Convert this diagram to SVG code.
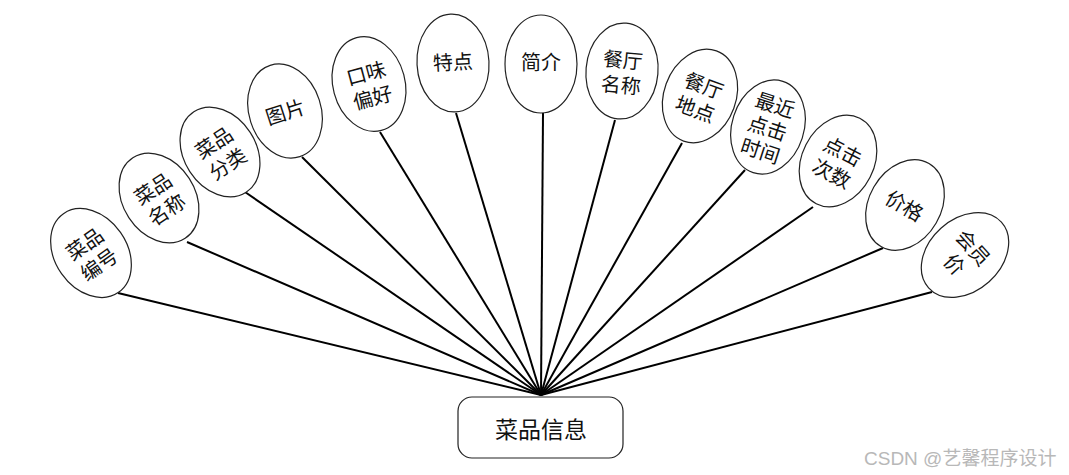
<svg xmlns="http://www.w3.org/2000/svg" width="1069" height="475" viewBox="0 0 1069 475">
<style>
.attr ellipse{fill:#fff;stroke:#222;stroke-width:1.2}
.attr text{font-family:"Noto Sans CJK SC","Noto Sans",sans-serif;font-size:20px;fill:#111;text-anchor:middle;dominant-baseline:central}
.conn line{stroke:#000;stroke-width:2}
.ent rect{fill:#fff;stroke:#222;stroke-width:1.2}
.ent text{font-family:"Noto Sans CJK SC","Noto Sans",sans-serif;font-size:23px;fill:#111;text-anchor:middle;dominant-baseline:central}
.wm{font-family:"Liberation Sans","Noto Sans CJK SC",sans-serif;font-size:19px;fill:#b8b8b8}
</style>
<rect width="1069" height="475" fill="#fff"/>
<g id="connectors" class="conn">
<line x1="118" y1="293" x2="541" y2="395"/>
<line x1="187" y1="242" x2="541" y2="395"/>
<line x1="245" y1="192" x2="541" y2="395"/>
<line x1="302" y1="157" x2="541" y2="395"/>
<line x1="380" y1="132" x2="541" y2="395"/>
<line x1="456" y1="113" x2="541" y2="395"/>
<line x1="543" y1="113" x2="541" y2="395"/>
<line x1="615" y1="120" x2="541" y2="395"/>
<line x1="682" y1="143" x2="541" y2="395"/>
<line x1="745" y1="170" x2="541" y2="395"/>
<line x1="813" y1="207" x2="541" y2="395"/>
<line x1="883" y1="248" x2="541" y2="395"/>
<line x1="932" y1="292" x2="541" y2="395"/>
</g>
<g id="n1" class="attr" transform="translate(91,253) rotate(-35)"><ellipse rx="36" ry="48"/><text y="-12">菜品</text><text y="13">编号</text></g>
<g id="n2" class="attr" transform="translate(159,198) rotate(-33)"><ellipse rx="36" ry="48"/><text y="-12">菜品</text><text y="13">名称</text></g>
<g id="n3" class="attr" transform="translate(220,152) rotate(-33)"><ellipse rx="36" ry="48"/><text y="-12">菜品</text><text y="13">分类</text></g>
<g id="n4" class="attr" transform="translate(285,111) rotate(-18)"><ellipse rx="36" ry="48"/><text y="0">图片</text></g>
<g id="n5" class="attr" transform="translate(369,84) rotate(-15)"><ellipse rx="36" ry="48"/><text y="-12">口味</text><text y="13">偏好</text></g>
<g id="n6" class="attr" transform="translate(453,63) rotate(-3)"><ellipse rx="36" ry="49"/><text y="-2">特点</text></g>
<g id="n7" class="attr" transform="translate(541,64)"><ellipse rx="36" ry="49"/><text y="-3">简介</text></g>
<g id="n8" class="attr" transform="translate(622,71) rotate(5)"><ellipse rx="36" ry="48"/><text y="-12">餐厅</text><text y="13">名称</text></g>
<g id="n9" class="attr" transform="translate(700,96) rotate(20)"><ellipse rx="36" ry="48"/><text y="-12">餐厅</text><text y="13">地点</text></g>
<g id="n10" class="attr" transform="translate(768,127) rotate(18)"><ellipse rx="36" ry="48"/><text y="-24">最近</text><text y="0">点击</text><text y="24">时间</text></g>
<g id="n11" class="attr" transform="translate(838,161) rotate(27)"><ellipse rx="36" ry="48"/><text y="-12">点击</text><text y="13">次数</text></g>
<g id="n12" class="attr" transform="translate(905,205) rotate(30)"><ellipse rx="36" ry="48"/><text y="0">价格</text></g>
<g id="n13" class="attr" transform="translate(965,255) rotate(48)"><ellipse rx="36" ry="49"/><text y="-12">会员</text><text y="13">价</text></g>
<g id="entity" class="ent"><rect x="458" y="397" width="165" height="61" rx="14"/><text x="541" y="428">菜品信息</text></g>
<text class="wm" x="864" y="465">CSDN @艺馨程序设计</text>
</svg>
